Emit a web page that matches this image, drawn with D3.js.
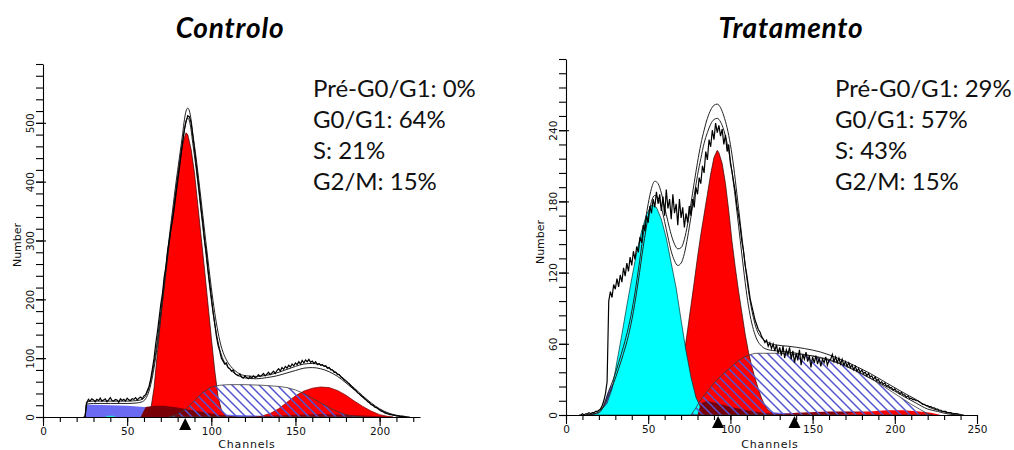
<!DOCTYPE html>
<html><head><meta charset="utf-8">
<script src="https://cdn.jsdelivr.net/npm/d3@7"></script>
<style>body{margin:0;background:#fff}svg{display:block}</style>
</head><body>
<svg id="c" width="1014" height="450"></svg>
<script>
// ---------------- DATA: Controlo ----------------
const ctrlTitle = "Controlo";
const ctrlStats = ["Pré-G0/G1: 0%", "G0/G1: 64%", "S: 21%", "G2/M: 15%"];
const ctrlXLabels = [0, 50, 100, 150, 200];
const ctrlYLabels = [0, 100, 200, 300, 400, 500];
const ctrlMarkers = [84.5];
const ctrlRawStart = 24;
const ctrlRaw = [0,0,24,
 30,27,31,29,26,30,28,32,27,29,31,26,29,33,28,27,30,29,25,31,28,30,27,32,29,28,31,30,33,29,32,34,
 31,36,38,45,52,65,82,100,125,145,168,192,210,238,255,282,300,320,335,355,378,400,422,445,468,488,502,512,
 510,500,478,455,430,405,380,352,330,300,282,252,228,205,180,160,138,122,112,100,95,90,
 92,84,82,78,80,74,72,70,73,68,66,70,67,65,69,66,70,67,68,72,69,71,74,70,73,76,72,75,78,74,
 79,82,78,84,81,86,83,88,85,90,87,92,89,94,90,96,92,97,94,98,93,95,91,94,89,91,
 88,89,86,87,83,84,80,80,76,76,72,72,68,66,63,61,58,56,52,50,47,45,41,39,36,34,31,29,26,24,
 21,20,17,16,14,12,10,9,7,6,5,4,4,3,3,2,2,1,1,1,0,0];
const ctrlFitOuter = [[25,0],[26,26],[30,27],[40,27],[50,27],[56,28],[59,30],[61,36],[63,50],[65,75],[67,110],[69,155],[71,205],[73,255],[75,305],[77,352],[79,398],[81,440],[83,482],[84,505],[85,520],[86,525],[87,520],[88,505],[89,482],[91,440],[93,392],[95,342],[97,292],[99,243],[101,198],[103,160],[105,130],[107,110],[109,97],[111,88],[114,79],[117,73],[121,70],[127,69],[133,71],[139,75],[145,81],[150,86],[155,90],[160,91],[165,89],[170,83],[175,74],[180,62],[185,49],[190,36],[195,24],[200,14],[205,7],[210,3],[215,1],[218,0]];
const ctrlFitInner = [[25,0],[26,22],[30,23],[40,23],[50,23],[56,24],[59,26],[61,31],[63,44],[65,68],[67,102],[69,146],[71,195],[73,245],[75,294],[77,340],[79,385],[81,428],[83,468],[84,488],[85,503],[86,508],[87,503],[88,488],[89,465],[91,422],[93,373],[95,322],[97,272],[99,222],[101,178],[103,142],[105,115],[107,98],[109,88],[111,81],[114,74],[117,69],[121,66],[127,65],[133,67],[139,70],[145,75],[150,79],[155,83],[160,84],[165,82],[170,77],[175,69],[180,58],[185,46],[190,34],[195,22],[200,13],[205,6],[210,2],[215,0]];
const ctrlDebris = [[25,0],[26,21],[30,21],[40,20],[50,19],[60,17],[70,14],[80,11],[90,8],[100,6],[110,4],[120,3],[130,2],[150,1],[170,0]];
const ctrlPre = [[37,0],[38,2],[42,2],[43,0]];
const ctrlG1 = [[62,0],[64,12],[66,50],[68,110],[70,170],[72,225],[74,275],[76,320],[78,365],[80,410],[82,450],[84,475],[85,483],[86,480],[88,455],[90,415],[92,360],[94,305],[96,250],[98,192],[100,135],[102,80],[104,35],[106,12],[108,3],[110,0]];
const ctrlG2 = [[128,0],[135,6],[140,14],[145,25],[150,36],[155,44],[160,49],[165,51],[170,50],[175,45],[180,37],[185,27],[190,18],[195,10],[200,4],[205,1],[208,0]];
const ctrlS = [[75,0],[80,5],[85,14],[90,28],[95,42],[100,51],[105,54],[110,55],[120,55],[130,54],[140,52],[145,50],[150,46],[155,40],[160,32],[165,24],[170,16],[175,9],[180,4],[185,1],[190,0]];
const ctrlDark = [[58,0],[61,17],[66,19],[72,19],[80,16],[88,12],[96,8],[104,4],[110,2],[116,0]];
const ctrlAgg = [[120,0],[135,2],[150,4],[165,5],[180,4],[195,2],[205,0]];

// ---------------- DATA: Tratamento ----------------
const tratTitle = "Tratamento";
const tratStats = ["Pré-G0/G1: 29%", "G0/G1: 57%", "S: 43%", "G2/M: 15%"];
const tratXLabels = [0, 50, 100, 150, 200, 250];
const tratYLabels = [0, 60, 120, 180, 240];
const tratMarkers = [92.5, 139];
const tratRawStart = 8;
const tratRaw = [0,0,1,0,1,1,2,1,2,2,3,3,4,5,8,12,18,28,
 96,104,99,110,106,115,108,118,112,124,117,128,121,133,126,138,131,142,137,150,145,160,155,168,162,176,170,182,175,188,
 178,186,172,184,168,190,174,182,165,186,170,178,160,182,166,175,158,170,162,176,168,182,175,192,186,200,195,210,204,222,215,232,226,240,232,246,238,244,235,241,228,236,222,228,
 212,205,196,188,176,168,158,146,138,126,118,108,98,92,86,80,76,72,70,66,64,61,63,58,61,56,60,54,59,52,57,50,58,48,55,51,57,47,54,44,52,
 46,55,42,51,47,53,45,50,40,49,44,50,43,48,41,47,44,49,42,46,
 47,51,45,49,44,48,43,47,42,45,41,44,40,42,38,41,37,39,36,38,
 35,36,33,35,32,33,30,32,29,30,27,28,26,27,24,25,23,23,21,22,
 20,20,18,19,17,17,15,16,14,14,13,13,12,12,11,10,9,9,8,8,
 7,7,6,6,5,5,4,4,3,3,3,2,2,2,1,1,1,1,0,0];
const tratFitOuter = [[12,0],[17,1],[20,3],[22,6],[24,12],[26,20],[29,31],[32,44],[35,58],[38,74],[41,95],[44,122],[47,152],[50,178],[52,191],[54,197],[56,195],[58,187],[60,175],[62,163],[64,152],[66,144],[68,140],[70,141],[72,148],[74,161],[76,178],[78,196],[80,213],[82,228],[84,240],[86,250],[88,257],[90,261],[92,262],[94,259],[96,252],[98,242],[100,228],[102,209],[104,186],[106,162],[108,138],[110,115],[112,96],[114,82],[116,72],[119,65],[123,61],[128,59],[135,58],[145,56],[155,53],[165,48],[175,42],[185,35],[195,27],[205,19],[213,13],[220,7],[226,4],[232,2],[238,1],[242,0]];
const tratFitInner = [[12,0],[17,1],[20,2],[22,5],[24,10],[26,17],[29,27],[32,39],[35,52],[38,67],[41,87],[44,113],[47,142],[50,167],[52,180],[54,185],[56,183],[58,175],[60,163],[62,150],[64,138],[66,130],[68,126],[70,128],[72,136],[74,150],[76,167],[78,185],[80,202],[82,216],[84,229],[86,238],[88,245],[90,249],[92,250],[94,247],[96,240],[98,229],[100,214],[102,194],[104,171],[106,147],[108,123],[110,101],[112,84],[114,72],[116,64],[119,58],[123,55],[128,54],[135,53],[145,51],[155,48],[165,44],[175,38],[185,31],[195,24],[205,16],[213,10],[220,5],[226,3],[232,1],[238,0]];
const tratDebris = [[21,0],[23,9],[25,18],[27,24],[29,27],[33,28],[40,27],[50,24],[60,20],[70,16],[80,12],[90,9],[100,6],[110,4],[120,3],[130,2],[140,1],[150,0]];
const tratPre = [[15,0],[20,2],[25,10],[28,22],[31,45],[34,68],[37,92],[40,115],[43,137],[46,155],[49,169],[52,177],[55,175],[58,165],[61,149],[64,128],[67,107],[70,80],[73,54],[76,32],[79,15],[82,6],[86,1],[88,0]];
const tratG1 = [[62,0],[66,8],[68,20],[70,35],[72,52],[74,72],[76,92],[78,112],[80,133],[82,152],[84,169],[86,186],[88,203],[90,217],[92,223],[93,221],[95,212],[97,195],[99,172],[101,146],[103,124],[105,104],[107,86],[109,68],[111,53],[113,41],[115,31],[117,22],[119,14],[121,8],[123,4],[126,1],[128,0]];
const tratG2 = [[165,0],[175,2],[185,3],[195,4],[205,4],[215,3],[222,2],[228,0]];
const tratS = [[76,0],[79,6],[82,13],[86,20],[90,27],[95,34],[100,40],[105,46],[110,50],[115,52],[120,52],[130,52],[140,51],[150,50],[160,47],[170,42],[180,35],[190,27],[200,18],[210,9],[215,5],[220,1],[223,0]];
const tratDark = [[80,0],[82,10],[86,12],[92,10],[100,7],[110,4],[120,2],[128,1],[135,0]];
const tratAgg = [[125,0],[140,2],[160,3],[180,3],[200,2],[215,1],[225,0]];

// ---------------- DRAWING ----------------
const svg = d3.select("#c");
const defs = svg.append("defs");
const pat = defs.append("pattern").attr("id","hatch")
  .attr("patternUnits","userSpaceOnUse").attr("width",9).attr("height",9);
pat.append("path").attr("d","M-1,-1 L10,10 M-1,8 L1,10 M8,-1 L10,1")
  .attr("stroke","#5454d0").attr("stroke-width",1.5).attr("fill","none");

const TICK_FONT = "'DejaVu Sans', sans-serif";
const toPts = (start, arr) => arr.map((v,i) => [start+i, v]);

function panel(o){
  const x = d3.scaleLinear().domain(o.xDomain).range(o.xRange);
  const y = d3.scaleLinear().domain(o.yDomain).range(o.yRange);
  const g = svg.append("g");
  const area = d3.area().x(d=>x(d[0])).y0(y(0)).y1(d=>y(d[1]));
  const smooth = d3.line().x(d=>x(d[0])).y(d=>y(d[1])).curve(d3.curveMonotoneX);
  const line = d3.line().x(d=>x(d[0])).y(d=>y(d[1]));

  g.append("path").datum(o.S).attr("d",area).attr("fill","#fff");
  o.layers.forEach(L => {
    g.append("path").datum(L.data).attr("d",area)
      .attr("fill",L.color).attr("stroke",L.stroke||"none").attr("stroke-width",0.7);
  });
  g.append("path").datum(o.S).attr("d",area)
    .attr("fill","url(#hatch)").attr("stroke","#3a3a3a").attr("stroke-width",0.8);

  [o.fitOuter, o.fitInner].forEach(f => {
    g.append("path").datum(f).attr("d",smooth)
      .attr("fill","none").attr("stroke","#222").attr("stroke-width",1);
  });
  g.append("path").datum(o.raw).attr("d",line)
    .attr("fill","none").attr("stroke","#000").attr("stroke-width",1.2);

  const y0 = o.yRange[0];
  const xMinor = d3.range(0, o.xDomain[1]+0.01, 10);
  g.append("g").attr("transform",`translate(0,${y0})`)
    .call(d3.axisBottom(x).tickValues(xMinor).tickSize(5).tickSizeOuter(0).tickFormat(""))
    .call(a=>a.selectAll("line,path").attr("stroke","#000").attr("stroke-width",1.1));
  const xa = g.append("g").attr("transform",`translate(0,${y0})`)
    .call(d3.axisBottom(x).tickValues(o.xLabels).tickSize(9).tickSizeOuter(0).tickPadding(2));
  xa.select(".domain").remove();
  xa.selectAll("line").attr("stroke","#000").attr("stroke-width",1.1);
  xa.selectAll("text").attr("font-family",TICK_FONT).attr("font-size",10.5).attr("fill","#111");

  const xl = o.xRange[0];
  g.append("g").attr("transform",`translate(${xl},0)`)
    .call(d3.axisLeft(y).tickValues(d3.range(0, o.yDomain[1]+0.01, o.yMinorStep)).tickSize(7).tickSizeOuter(0).tickFormat(""))
    .call(a=>a.selectAll("line,path").attr("stroke","#000").attr("stroke-width",1.1));
  const ya = g.append("g").attr("transform",`translate(${xl},0)`)
    .call(d3.axisLeft(y).tickValues(o.yLabels).tickSize(7).tickSizeOuter(0));
  ya.select(".domain").remove();
  ya.selectAll("line").attr("stroke","#000").attr("x2",3).attr("x1",-7).attr("stroke-width",1.1);
  ya.selectAll("text").attr("transform","rotate(-90)").attr("x",0).attr("y",-9).attr("dy","0")
    .attr("text-anchor","middle").attr("font-family",TICK_FONT).attr("font-size",10.5).attr("fill","#111");

  g.selectAll(".mk").data(o.markers).join("path")
    .attr("d", d => `M${x(d)},${y0+1} L${x(d)+6},${y0+13} L${x(d)-6},${y0+13} Z`)
    .attr("fill","#000");

  g.append("text").attr("x",o.chanX).attr("y",448).attr("text-anchor","middle")
    .attr("font-family",TICK_FONT).attr("font-size",11).attr("letter-spacing",0.8).attr("fill","#111")
    .text("Channels");
  g.append("text").attr("transform",`translate(${o.numX},${o.numY}) rotate(-90)`).attr("text-anchor","middle")
    .attr("font-family",TICK_FONT).attr("font-size",11).attr("fill","#111").text("Number");

  svg.append("text").attr("x",o.titleX).attr("y",38).attr("text-anchor","middle")
    .attr("font-family","Lato, sans-serif").attr("font-weight","bold").attr("font-style","italic")
    .attr("font-size",28).attr("letter-spacing",0.8).attr("fill","#000").text(o.title);
  svg.append("g").selectAll("text").data(o.stats).join("text")
    .attr("x",o.statX).attr("y",(d,i)=>97+i*31)
    .attr("font-family","Lato, sans-serif").attr("font-size",24).attr("fill","#111")
    .text(d=>d);
}

panel({
  xDomain:[0,224], xRange:[43,420], yDomain:[0,600], yRange:[417,64], yMinorStep:20,
  xLabels:ctrlXLabels, yLabels:ctrlYLabels, markers:ctrlMarkers,
  raw:toPts(ctrlRawStart, ctrlRaw), fitOuter:ctrlFitOuter, fitInner:ctrlFitInner, S:ctrlS,
  layers:[
    {data:ctrlDebris, color:"#6a6af2"},
    {data:ctrlPre, color:"#22dddd"},
    {data:ctrlG1, color:"#ff0000", stroke:"#300"},
    {data:ctrlG2, color:"#ff0000", stroke:"#700"},
    {data:ctrlDark, color:"#7a0008"},
    {data:ctrlAgg, color:"#8a0010"}
  ],
  chanX:247, numX:21, numY:245, title:ctrlTitle, titleX:230, stats:ctrlStats, statX:313
});
panel({
  xDomain:[0,250], xRange:[566,977], yDomain:[0,300], yRange:[415,59], yMinorStep:12,
  xLabels:tratXLabels, yLabels:tratYLabels, markers:tratMarkers,
  raw:toPts(tratRawStart, tratRaw), fitOuter:tratFitOuter, fitInner:tratFitInner, S:tratS,
  layers:[
    {data:tratDebris, color:"#6a6af2"},
    {data:tratG1, color:"#ff0000", stroke:"#300"},
    {data:tratPre, color:"#00ffff", stroke:"#033"},
    {data:tratDark, color:"#7a0008"},
    {data:tratAgg, color:"#8a0010"},
    {data:tratG2, color:"#ff0000"}
  ],
  chanX:770, numX:544, numY:242, title:tratTitle, titleX:791, stats:tratStats, statX:835
});
</script>
</body></html>
